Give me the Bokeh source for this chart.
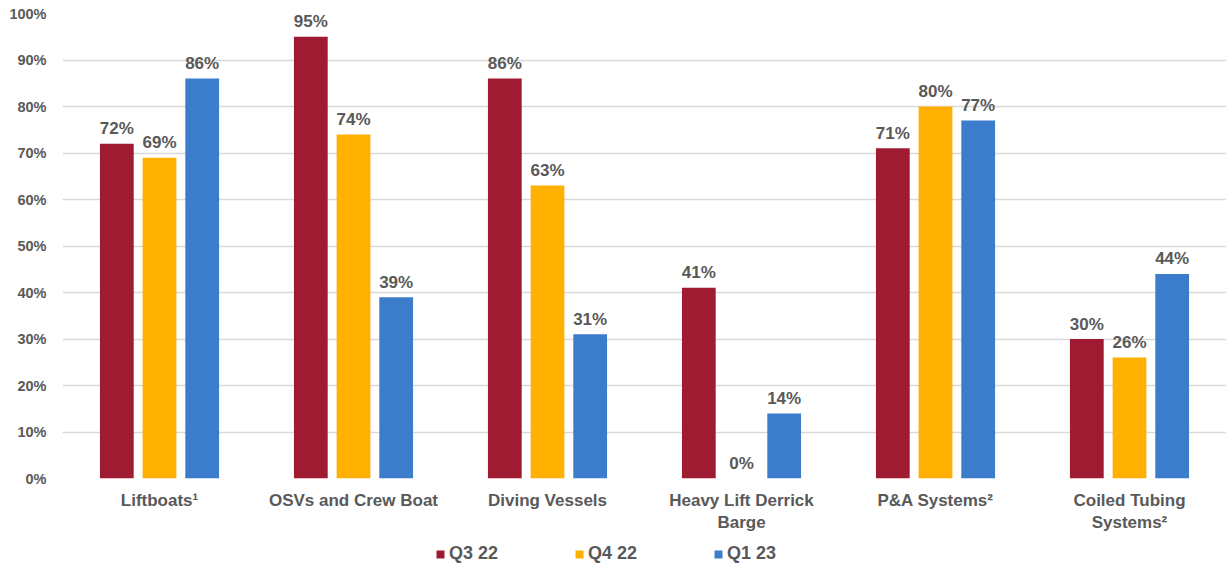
from bokeh.plotting import figure
from bokeh.layouts import column
from bokeh.models import (ColumnDataSource, FactorRange, Legend, LegendItem,
                          FixedTicker, PrintfTickFormatter)
from bokeh.transform import dodge
from bokeh.embed import file_html
from bokeh.resources import INLINE
from bokeh.core.properties import value

categories = ["Liftboats\u00b9", "OSVs and Crew Boat", "Diving Vessels",
              "Heavy Lift Derrick\nBarge", "P&A Systems\u00b2",
              "Coiled Tubing\nSystems\u00b2"]
series_names = ["Q3 22", "Q4 22", "Q1 23"]
q3_22 = [72, 95, 86, 41, 71, 30]
q4_22 = [69, 74, 63, 0, 80, 26]
q1_23 = [86, 39, 31, 14, 77, 44]
y_ticks = [0, 10, 20, 30, 40, 50, 60, 70, 80, 90, 100]

colors = ["#9E1B32", "#FFB000", "#3B7DCB"]
offsets = [-0.22, 0.0, 0.22]
text_color = "#595959"
font = "Liberation Sans"

p = figure(width=1226, height=538, x_range=FactorRange(*categories, range_padding=0),
           y_range=(0, 100), output_backend="svg", toolbar_location=None,
           min_border_left=62, min_border_right=0, min_border_top=13,
           min_border_bottom=60)
p.outline_line_color = None

# legend strip below the chart (frames are aligned by the column layout)
lg = figure(width=1226, height=30, x_range=(0, 1), y_range=(0, 1),
            output_backend="svg", toolbar_location=None,
            min_border_left=62, min_border_right=0, min_border_top=0,
            min_border_bottom=0)
lg.axis.visible = False
lg.grid.visible = False
lg.outline_line_color = None

items = []
for name, vals, col, off in zip(series_names, [q3_22, q4_22, q1_23], colors, offsets):
    src = ColumnDataSource(dict(cat=categories, val=vals,
                                lbl=[f"{v}%" for v in vals]))
    p.vbar(x=dodge("cat", off, range=p.x_range), top="val", width=0.174,
           source=src, fill_color=col, line_color=None)
    p.text(x=dodge("cat", off, range=p.x_range), y="val", text="lbl", source=src,
           text_align="center", text_baseline="alphabetic", y_offset=-15,
           text_font=value(font), text_font_style="bold", text_font_size="17px",
           text_color=text_color)
    # zero-height helper bar, only used to draw the legend swatch
    swatch = lg.vbar(x=[0], top=[0], bottom=[0], width=0, fill_color=col,
                     line_color=None)
    items.append(LegendItem(label=name, renderers=[swatch]))

legend = Legend(items=items, orientation="horizontal", location=(373, 4),
                padding=0, margin=0, border_line_color=None,
                background_fill_alpha=0, glyph_width=10, glyph_height=10,
                label_standoff=4, spacing=76, label_height=20,
                label_text_font=font, label_text_font_style="bold",
                label_text_font_size="18px", label_text_color=text_color)
lg.add_layout(legend, "center")

p.xgrid.grid_line_color = None
p.ygrid.grid_line_color = "#d9d9d9"
p.ygrid.grid_line_width = 1.5
p.ygrid.ticker = FixedTicker(ticks=y_ticks)

p.yaxis.ticker = FixedTicker(ticks=y_ticks)
p.yaxis.formatter = PrintfTickFormatter(format="%d%%")
p.yaxis.axis_line_color = None
p.yaxis.major_tick_line_color = None
p.yaxis.minor_tick_line_color = None
p.yaxis.major_label_standoff = 10
p.yaxis.major_label_text_font = font
p.yaxis.major_label_text_font_style = "bold"
p.yaxis.major_label_text_font_size = "14.5px"
p.yaxis.major_label_text_color = text_color

p.xaxis.axis_line_color = None
p.xaxis.major_tick_line_color = None
p.xaxis.minor_tick_line_color = None
p.xaxis.major_label_standoff = 6
p.xaxis.major_label_text_font = font
p.xaxis.major_label_text_font_style = "bold"
p.xaxis.major_label_text_font_size = "17px"
p.xaxis.major_label_text_color = text_color

layout = column(p, lg, spacing=0)
open("out.html", "w").write(file_html(layout, INLINE))
